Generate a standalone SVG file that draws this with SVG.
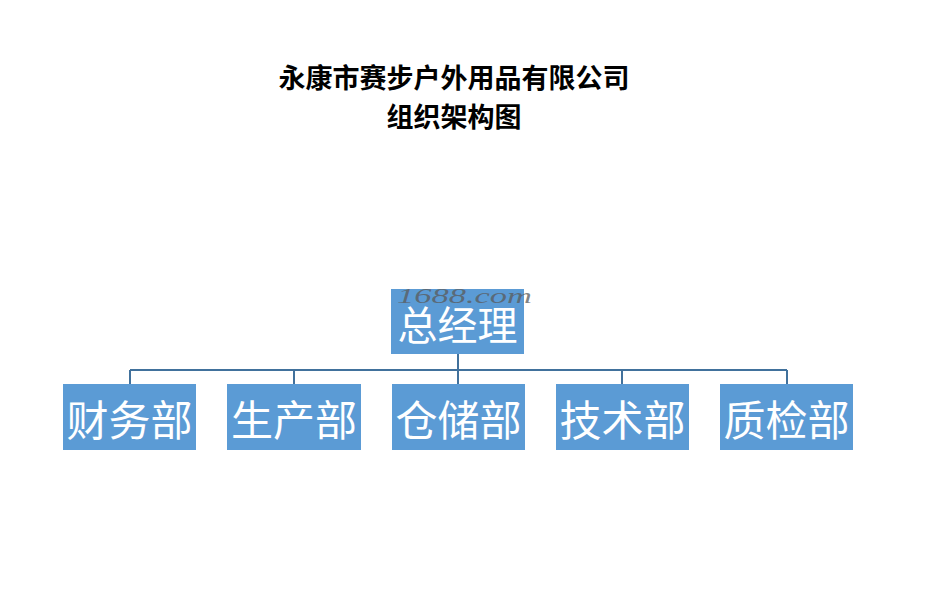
<svg xmlns="http://www.w3.org/2000/svg" width="929" height="591" viewBox="0 0 929 591">
<style>
.title{font-family:"Noto Sans CJK SC","Liberation Sans",sans-serif;font-weight:bold;fill:#000;text-anchor:middle}
.box{fill:#5b9bd5}
.lbl{font-family:"Noto Sans CJK SC",sans-serif;font-size:42px;fill:#fff;text-anchor:middle;dominant-baseline:central}
.top{font-size:40px}
.conn{stroke:#41719c;stroke-width:2;fill:none}
.wm{font-family:"Liberation Serif",serif;font-style:italic;font-size:22px;fill:#5a5a5a;fill-opacity:0.75}
</style>
<rect width="929" height="591" fill="#fff"/>
<text class="title" x="454" y="88" font-size="27">永康市赛步户外用品有限公司</text>
<text class="title" x="454" y="127" font-size="27">组织架构图</text>
<g id="connectors">
<path class="conn" d="M458 354V370M130 370H787M130 370V384M294 370V384M458 370V384M622 370V384M787 370V384"/>
</g>
<g id="gm"><rect class="box" x="391" y="289" width="133" height="65"/><text class="lbl top" x="457.5" y="323">总经理</text></g>
<g id="finance"><rect class="box" x="63" y="384" width="133" height="66"/><text class="lbl" x="129.5" y="417">财务部</text></g>
<g id="production"><rect class="box" x="227" y="384" width="134" height="66"/><text class="lbl" x="294" y="417">生产部</text></g>
<g id="warehouse"><rect class="box" x="392" y="384" width="133" height="66"/><text class="lbl" x="458.5" y="417">仓储部</text></g>
<g id="tech"><rect class="box" x="556" y="384" width="133" height="66"/><text class="lbl" x="622.5" y="417">技术部</text></g>
<g id="qc"><rect class="box" x="720" y="384" width="133" height="66"/><text class="lbl" x="786.5" y="417">质检部</text></g>
<text class="wm" x="397" y="303" textLength="135" lengthAdjust="spacingAndGlyphs">1688.com</text>
</svg>
